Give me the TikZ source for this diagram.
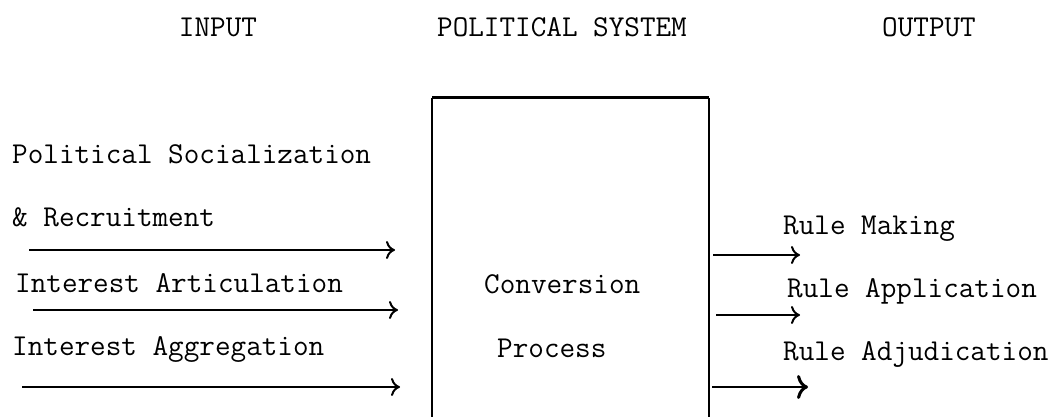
\documentclass[tikz,border=0pt]{standalone}
\usepackage{fontspec}
\usetikzlibrary{arrows.meta}
\begin{document}
\begin{tikzpicture}[x=1pt,y=-1pt,
  txt/.style={anchor=base west,inner sep=0pt,font=\ttfamily\fontsize{30.3}{36}\selectfont},
  head/.style={anchor=base,inner sep=0pt,font=\ttfamily\fontsize{30.3}{36}\selectfont},
  flow/.style={line width=2pt,-{Computer Modern Rightarrow[length=9pt,width=18pt,line width=2pt]}},
  bigflow/.style={line width=2.4pt,-{Computer Modern Rightarrow[length=11pt,width=24pt,line width=3pt]}},
  boxline/.style={line width=2pt}]
\useasboundingbox (0,0) rectangle (1063,417);
% headers
\node[head] (hin)  at (218,37) {INPUT};
\node[head] (hsys) at (562,37) {POLITICAL SYSTEM};
\node[head] (hout) at (929,37) {OUTPUT};
% box (open at the bottom)
\coordinate (bl) at (432,420);
\coordinate (tl) at (432,98);
\coordinate (tr) at (709,98);
\coordinate (br) at (709,420);
\draw[boxline] (bl) -- (tl);
\draw[line width=3pt] (tl) -- (tr);
\draw[boxline] (tr) -- (br);
% left texts
\node[txt] (ps)  at (12,164) {Political Socialization};
\node[txt] (rec) at (12,226) {\& Recruitment};
\node[txt] (ia)  at (15,292) {Interest Articulation};
\node[txt] (iag) at (12,355) {Interest Aggregation};
% centre texts
\node[txt] (conv) at (484,293) {Conversion};
\node[txt] (proc) at (497,357) {Process};
% right texts
\node[txt] (rm)  at (783,234) {Rule Making};
\node[txt] (ra)  at (787,297) {Rule Application};
\node[txt] (rad) at (783,360) {Rule Adjudication};
% input arrows
\coordinate (a1s) at (29,250);  \coordinate (a1e) at (395,250);
\coordinate (a2s) at (33,310);  \coordinate (a2e) at (398,310);
\coordinate (a3s) at (22,387);  \coordinate (a3e) at (400,387);
\draw[flow] (a1s) -- (a1e);
\draw[flow] (a2s) -- (a2e);
\draw[flow] (a3s) -- (a3e);
% output arrows
\coordinate (o1s) at (713,255); \coordinate (o1e) at (800,255);
\coordinate (o2s) at (716,315); \coordinate (o2e) at (800,315);
\coordinate (o3s) at (712,387); \coordinate (o3e) at (808,387);
\draw[flow] (o1s) -- (o1e);
\draw[flow] (o2s) -- (o2e);
\draw[bigflow] (o3s) -- (o3e);
\end{tikzpicture}
\end{document}
